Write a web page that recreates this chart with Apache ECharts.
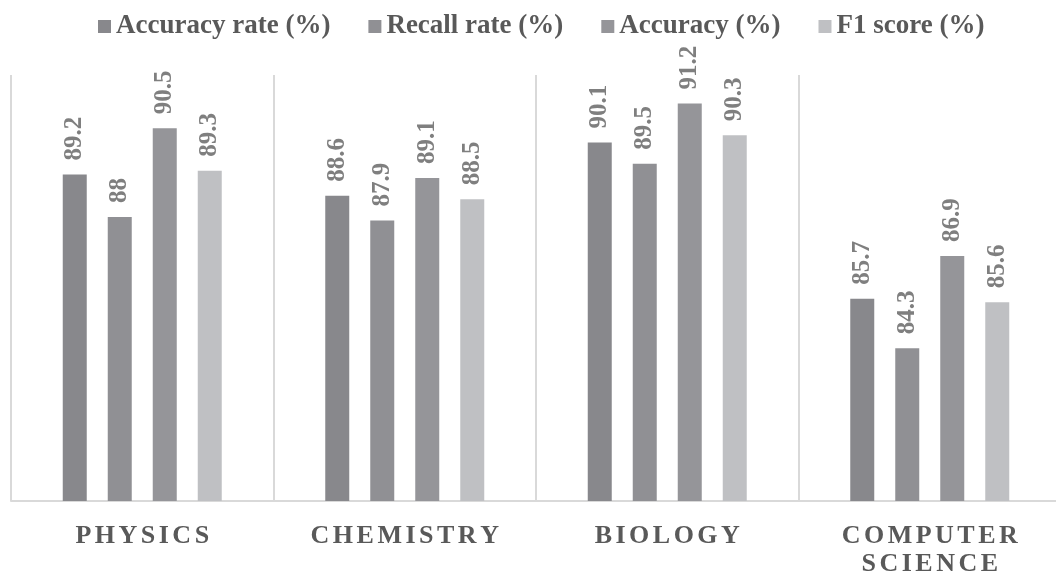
<!DOCTYPE html>
<html>
<head>
<meta charset="utf-8">
<style>
  html, body { margin: 0; padding: 0; background: #ffffff; }
  #chart { width: 1056px; height: 573px; }
</style>
<script src="https://cdn.jsdelivr.net/npm/echarts@6/dist/echarts.min.js"></script>
</head>
<body>
<div id="chart"></div>
<script>
// Subject categories along the x axis
const categories = ['PHYSICS', 'CHEMISTRY', 'BIOLOGY', 'COMPUTER SCIENCE'];

// Metric values per subject (%)
const accuracyRate = [89.2, 88.6, 90.1, 85.7];
const recallRate   = [88.0, 87.9, 89.5, 84.3];
const accuracy     = [90.5, 89.1, 91.2, 86.9];
const f1Score      = [89.3, 88.5, 90.3, 85.6];

const seriesNames = ['Accuracy rate (%)', 'Recall rate (%)', 'Accuracy (%)', 'F1 score (%)'];
const seriesColors = ['#88888c', '#909094', '#959599', '#bfc0c3'];
const seriesValues = [accuracyRate, recallRate, accuracy, f1Score];

const serif = '"Liberation Serif", "Times New Roman", serif';

const chart = echarts.init(document.getElementById('chart'), null, { renderer: 'canvas' });

// Spread letters apart with narrow spacer tokens; one word per line
function spacedLabel(value) {
  return value.split(' ')
    .map(word => word.split('').map(ch => '{a|' + ch + '}').join('{s| }'))
    .join('\n');
}

const series = seriesNames.map((name, i) => ({
  name: name,
  type: 'bar',
  data: seriesValues[i],
  barWidth: 24,
  barGap: '87.5%',
  itemStyle: { color: seriesColors[i] },
  label: {
    show: true,
    position: 'top',
    rotate: 90,
    align: 'left',
    verticalAlign: 'middle',
    distance: 14,
    fontFamily: serif,
    fontWeight: 'bold',
    fontSize: 25,
    color: '#7f7f7f',
    formatter: p => String(p.value)
  }
}));

chart.setOption({
  animation: false,
  backgroundColor: '#ffffff',
  legend: {
    data: seriesNames,
    top: 8,
    left: 93,
    icon: 'rect',
    itemWidth: 13,
    itemHeight: 13,
    itemGap: 38,
    textStyle: {
      fontFamily: serif,
      fontWeight: 'bold',
      fontSize: 27,
      color: '#595959'
    }
  },
  grid: {
    left: 11,
    top: 75,
    width: 1050,
    height: 426,
    containLabel: false,
    outerBoundsMode: 'none'
  },
  xAxis: {
    type: 'category',
    data: categories,
    boundaryGap: true,
    axisTick: { show: false },
    axisLine: { show: true, lineStyle: { color: '#d9d9d9', width: 2 } },
    splitLine: { show: true, interval: 0, lineStyle: { color: '#d9d9d9', width: 2 } },
    axisLabel: {
      interval: 0,
      margin: 21,
      lineHeight: 28,
      formatter: spacedLabel,
      rich: {
        a: { fontFamily: serif, fontWeight: 'bold', fontSize: 26, color: '#595959', lineHeight: 28 },
        s: { fontFamily: serif, fontSize: 14, lineHeight: 28 }
      }
    }
  },
  yAxis: {
    type: 'value',
    min: 80,
    max: 92,
    show: false,
    splitLine: { show: false }
  },
  series: series
});
</script>
</body>
</html>
